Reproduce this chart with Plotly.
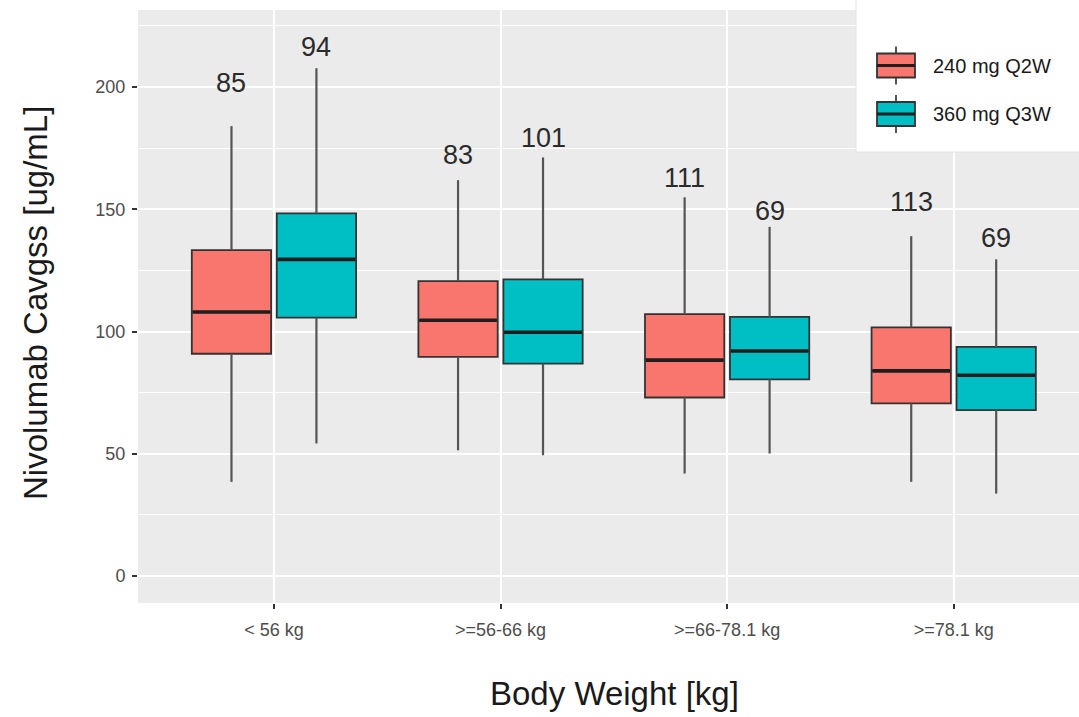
import plotly.graph_objects as go

categories = ["< 56 kg", ">=56-66 kg", ">=66-78.1 kg", ">=78.1 kg"]
series_names = ["240 mg Q2W", "360 mg Q3W"]

q2w_upper = [184.0, 161.9, 154.9, 139.0]
q2w_q3 = [133.3, 120.6, 107.1, 101.7]
q2w_median = [108.0, 104.6, 88.3, 83.9]
q2w_q1 = [90.9, 89.6, 73.0, 70.6]
q2w_lower = [38.5, 51.4, 41.9, 38.5]
q2w_n = [85, 83, 111, 113]
q2w_label_y = [201.5, 172.2, 162.8, 153.1]

q3w_upper = [207.7, 171.2, 142.8, 129.5]
q3w_q3 = [148.3, 121.3, 106.0, 93.7]
q3w_median = [129.5, 99.7, 92.0, 82.1]
q3w_q1 = [105.7, 86.9, 80.4, 67.8]
q3w_lower = [54.2, 49.4, 50.1, 33.7]
q3w_n = [94, 101, 69, 69]
q3w_label_y = [216.4, 179.1, 149.4, 138.1]

y_ticks = [0, 50, 100, 150, 200]

colors = ["#F8766D", "#00BFC4"]
dodge = 0.1875
box_w = 0.35
FONT = "Liberation Sans, Arial, sans-serif"

series = [
    (series_names[0], q2w_lower, q2w_q1, q2w_median, q2w_q3, q2w_upper, q2w_n, q2w_label_y, -dodge, colors[0]),
    (series_names[1], q3w_lower, q3w_q1, q3w_median, q3w_q3, q3w_upper, q3w_n, q3w_label_y, dodge, colors[1]),
]

L, R, T, B = 138, 0, 10, 114
W, H = 1079, 717
pw = W - L - R
ph = H - T - B

def px_x(p):
    return (p - L) / pw

def px_y(p):
    return (H - B - p) / ph

fig = go.Figure()
annotations = []
for i, (name, lo, q1, med, q3, up, n, ly, off, col) in enumerate(series):
    xs = [k + off for k in range(len(categories))]
    wx, wy = [], []
    for x, a, b, c, d in zip(xs, lo, q1, q3, up):
        wx += [x, x, None, x, x, None]
        wy += [a, b, None, c, d, None]
    fig.add_trace(go.Scatter(x=wx, y=wy, mode="lines",
                             line=dict(color="#555555", width=2.2),
                             showlegend=False, hoverinfo="skip"))
    fig.add_trace(go.Box(
        name=name, x=xs, lowerfence=q1, q1=q1, median=med, q3=q3, upperfence=q3,
        width=box_w, whiskerwidth=0, fillcolor=col,
        line=dict(color="#333333", width=1.8),
        boxpoints=False, hoverinfo="skip", showlegend=False,
    ))
    mx, my = [], []
    for x, m in zip(xs, med):
        mx += [x - box_w / 2 + 0.004, x + box_w / 2 - 0.004, None]
        my += [m, m, None]
    fig.add_trace(go.Scatter(x=mx, y=my, mode="lines",
                             line=dict(color="#1e1e1e", width=3.6),
                             showlegend=False, hoverinfo="skip"))
    for x, yv, cnt in zip(xs, ly, n):
        annotations.append(dict(x=x, y=yv, xref="x", yref="y", text=str(cnt),
                                showarrow=False, yanchor="middle", xanchor="center",
                                font=dict(size=27, color="#2b2b2b", family=FONT)))

annotations.append(dict(text="Nivolumab Cavgss [ug/mL]", textangle=-90,
                        xref="paper", yref="paper", x=px_x(35), y=px_y(303),
                        showarrow=False, xanchor="center", yanchor="middle",
                        font=dict(size=33, color="#1a1a1a", family=FONT)))
annotations.append(dict(text="Body Weight [kg]",
                        xref="paper", yref="paper", x=px_x(614), y=px_y(693),
                        showarrow=False, xanchor="center", yanchor="middle",
                        font=dict(size=33, color="#1a1a1a", family=FONT)))

shapes = [dict(type="rect", xref="paper", yref="paper",
               x0=px_x(856), x1=1.01, y0=px_y(152), y1=1.05,
               fillcolor="white", line=dict(color="#E4E4E4", width=1), layer="above")]

key_x0, key_x1 = 877, 915
key_cy = [65.5, 114]
for name, col, cy in zip(series_names, colors, key_cy):
    xc = (key_x0 + key_x1) / 2
    shapes.append(dict(type="line", xref="paper", yref="paper",
                       x0=px_x(xc), x1=px_x(xc), y0=px_y(cy - 19), y1=px_y(cy + 19),
                       line=dict(color="#555555", width=2), layer="above"))
    shapes.append(dict(type="rect", xref="paper", yref="paper",
                       x0=px_x(key_x0), x1=px_x(key_x1), y0=px_y(cy + 12), y1=px_y(cy - 12),
                       fillcolor=col, line=dict(color="#333333", width=1.8), layer="above"))
    shapes.append(dict(type="line", xref="paper", yref="paper",
                       x0=px_x(key_x0), x1=px_x(key_x1), y0=px_y(cy), y1=px_y(cy),
                       line=dict(color="#1e1e1e", width=3), layer="above"))
    annotations.append(dict(text=name, xref="paper", yref="paper",
                            x=px_x(931), y=px_y(cy), xanchor="left", yanchor="middle",
                            showarrow=False,
                            font=dict(size=20, color="#1a1a1a", family=FONT)))

fig.update_layout(
    width=W, height=H,
    margin=dict(l=L, r=R, t=T, b=B, autoexpand=False),
    paper_bgcolor="white", plot_bgcolor="#EBEBEB",
    font=dict(family=FONT, color="#4D4D4D"),
    annotations=annotations,
    shapes=shapes,
    showlegend=False,
)

fig.update_xaxes(
    range=[-0.6, 3.553], tickvals=list(range(len(categories))), ticktext=categories,
    showgrid=True, gridcolor="white", gridwidth=2, zeroline=False,
    ticks="outside", ticklen=5, tickcolor="#333333", tickwidth=1.5,
    tickfont=dict(size=18, color="#4D4D4D"), ticklabelstandoff=5,
    showline=False,
)
fig.update_yaxes(
    range=[-11.05, 231.5], tickvals=y_ticks,
    showgrid=True, gridcolor="white", gridwidth=2, zeroline=False,
    minor=dict(dtick=25, tick0=25, showgrid=True, gridcolor="white", gridwidth=1, ticks=""),
    ticks="outside", ticklen=5, tickcolor="#333333", tickwidth=1.5,
    tickfont=dict(size=18, color="#4D4D4D"), ticklabelstandoff=3,
    showline=False,
)

fig.write_html("out.html")
